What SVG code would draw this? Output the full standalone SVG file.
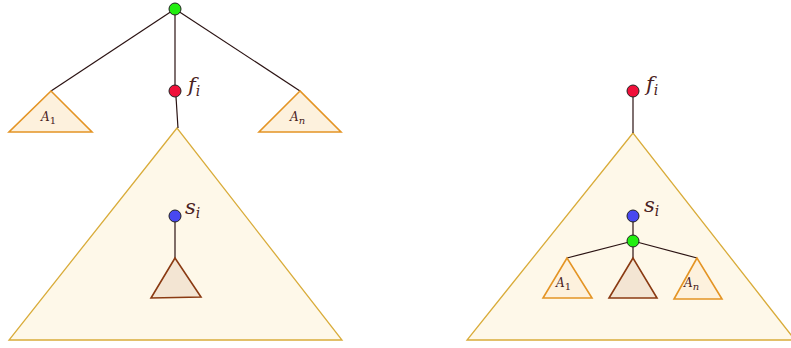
<svg xmlns="http://www.w3.org/2000/svg" width="791" height="348" viewBox="0 0 791 348">
<style>
.big{fill:#fef8e9;stroke:#d9ac3a;stroke-width:1.3;stroke-linejoin:miter}
.sub{fill:#fdf1dd;stroke:#e49424;stroke-width:1.6}
.core{fill:#f3e5d3;stroke:#8a3a12;stroke-width:1.6}
.edge{stroke:#2a1212;stroke-width:1.2;fill:none}
.node{stroke:#222;stroke-width:1}
.lbl{font-family:"DejaVu Serif","Liberation Serif",serif;font-style:italic;fill:#4a2222}
.sm{font-size:12px}
.md{font-size:21px}
.sub2{font-size:14px}
</style>
<g id="left-big-tree"><polygon class="big" points="177,128 9,340 342,340"/></g>
<g id="right-big-tree"><polygon class="big" points="633,133 467,340 795,340"/></g>
<g id="connectors">
<line class="edge" x1="175" y1="9" x2="51" y2="91"/>
<line class="edge" x1="175" y1="9" x2="300" y2="91"/>
<line class="edge" x1="175" y1="9" x2="175" y2="91"/>
<line class="edge" x1="176" y1="97" x2="178" y2="128"/>
<line class="edge" x1="175" y1="216" x2="175" y2="258"/>
<line class="edge" x1="633" y1="91" x2="633" y2="133"/>
<line class="edge" x1="633" y1="216" x2="633" y2="241"/>
<line class="edge" x1="633" y1="241" x2="567" y2="258"/>
<line class="edge" x1="633" y1="241" x2="633" y2="258"/>
<line class="edge" x1="633" y1="241" x2="697" y2="258"/>
</g>
<g id="left-A1"><polygon class="sub" points="51,91 9,132 92,132"/><text class="lbl sm" x="41" y="121">A<tspan font-size="10" dy="3" font-style="normal">1</tspan></text></g>
<g id="left-An"><polygon class="sub" points="300,91 259,132 341,132"/><text class="lbl sm" x="290" y="121">A<tspan font-size="10" dy="3">n</tspan></text></g>
<g id="left-core"><polygon class="core" points="175,258 151,298 201,297"/></g>
<g id="right-A1"><polygon class="sub" points="567,258 543,298 592,298"/><text class="lbl sm" x="556" y="287">A<tspan font-size="10" dy="3" font-style="normal">1</tspan></text></g>
<g id="right-core"><polygon class="core" points="633,258 609,298 657,298"/></g>
<g id="right-An"><polygon class="sub" points="697,258 674,299 722,299"/><text class="lbl sm" x="684" y="287">A<tspan font-size="10" dy="3">n</tspan></text></g>
<g id="left-root"><circle class="node" cx="175" cy="9" r="6" fill="#22ee10"/></g>
<g id="left-fi"><circle class="node" cx="175" cy="91" r="6" fill="#f0103a"/><text class="lbl md" x="188" y="92">f<tspan class="sub2" dy="4">i</tspan></text></g>
<g id="left-si"><circle class="node" cx="175" cy="216" r="6" fill="#4848f0"/><text class="lbl md" x="185" y="214">s<tspan class="sub2" dy="4">i</tspan></text></g>
<g id="right-fi"><circle class="node" cx="633" cy="91" r="6" fill="#f0103a"/><text class="lbl md" x="646" y="91">f<tspan class="sub2" dy="4">i</tspan></text></g>
<g id="right-si"><circle class="node" cx="633" cy="216" r="6" fill="#4848f0"/><text class="lbl md" x="644" y="212">s<tspan class="sub2" dy="4">i</tspan></text></g>
<g id="right-root"><circle class="node" cx="633" cy="241" r="6" fill="#22ee10"/></g>
</svg>
